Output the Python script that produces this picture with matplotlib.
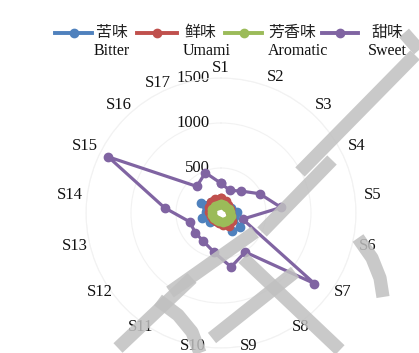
import numpy as np
import matplotlib
matplotlib.use("Agg")
import matplotlib.pyplot as plt
from matplotlib.lines import Line2D

# sample names around the radar
categories = ["S1", "S2", "S3", "S4", "S5", "S6", "S7", "S8", "S9",
              "S10", "S11", "S12", "S13", "S14", "S15", "S16", "S17"]

# taste intensities per sample
bitter = [120, 110, 100, 130, 180, 150, 260, 240, 120, 100, 110, 160, 220, 170, 250, 160, 130]
umami = [170, 140, 120, 110, 100, 120, 150, 170, 130, 110, 100, 110, 120, 130, 150, 160, 170]
aromatic = [100, 95, 90, 95, 105, 110, 115, 110, 100, 95, 90, 95, 100, 105, 110, 105, 100]
sweet = [330, 270, 330, 480, 670, 250, 1300, 510, 610, 440, 370, 360, 360, 630, 1400, 400, 480]

names_cn = ["苦味", "鲜味", "芳香味", "甜味"]
names_en = ["Bitter", "Umami", "Aromatic", "Sweet"]
r_ticks = [0, 500, 1000, 1500]

colors = ["#4F81BD", "#C0504D", "#9BBB59", "#8064A2"]
SERIF = "Liberation Serif"
CJK = ["Noto Sans CJK SC", "DejaVu Sans"]

W, H = 419, 353
fig = plt.figure(figsize=(W / 100, H / 100), dpi=100)
fig.patch.set_facecolor("white")


def fx(x):
    return x / W


def fy(y):
    return 1 - y / H


# polar area: centre (221, 213) px, radius 135 px
cx, cy, rad = 221, 213, 135
ax = fig.add_axes([fx(cx - rad), fy(cy + rad), 2 * rad / W, 2 * rad / H], projection="polar")
ax.set_theta_zero_location("N")
ax.set_theta_direction(-1)
ax.set_ylim(0, 1500)
ax.set_xticks([])
ax.set_yticks(r_ticks[1:])
ax.set_yticklabels([])
ax.yaxis.grid(True, color="#f2f2f2", lw=0.8)
ax.spines["polar"].set_color("#f2f2f2")
ax.spines["polar"].set_linewidth(0.8)
ax.set_facecolor("white")

n = len(categories)
angles = np.arange(n) * 2 * np.pi / n
closed = np.append(angles, angles[0])

series = [bitter, umami, aromatic, sweet]
zorders = [4, 5, 6, 3]
for vals, c, z in zip(series, colors, zorders):
    v = np.append(vals, vals[0])
    ax.plot(closed, v, color=c, lw=2.3, marker="o", ms=6, zorder=z, clip_on=False)

# value labels along the top spoke
for t in r_ticks:
    ax.annotate(str(t), (0, t), xytext=(-8, 0), textcoords="offset points",
                ha="right", va="center", fontsize=12, family=SERIF, color="#111111",
                zorder=2)

# category labels on a slightly flattened ring; S17 is pushed clear of "1500"
nudge = {"S17": (-0.03, -0.02)}
for a, lab in zip(angles, categories):
    dx, dy = nudge.get(lab, (0, 0))
    ax.text(0.5 + 0.563 * np.sin(a) + dx, 0.5185 + 0.5185 * np.cos(a) + dy, lab,
            transform=ax.transAxes, ha="center", va="center",
            fontsize=12, family=SERIF, color="#111111", clip_on=False)

# legend drawn by hand: handle span, chinese label x, english label x
handle_x = [(55, 92), (137, 177), (225, 262), (322, 358)]
cn_x = [112, 200, 292, 387]
en_x = [112, 207, 298, 387]
for (x0, x1), c, xc, xe, cn, en in zip(handle_x, colors, cn_x, en_x, names_cn, names_en):
    fig.add_artist(Line2D([fx(x0), fx(x1)], [fy(33), fy(33)], color=c, lw=2.8))
    fig.add_artist(Line2D([fx((x0 + x1) / 2)], [fy(33)], color=c, marker="o", ms=6))
    fig.text(fx(xc), fy(32), cn, ha="center", va="center", fontsize=11.5,
             family=CJK, color="#222222")
    fig.text(fx(xe), fy(51), en, ha="center", va="center", fontsize=11.5,
             family=SERIF, color="#111111")

# grey diagonal watermark strokes over the chart
strokes = [
    [(118, 348), (192, 278)],
    [(170, 292), (255, 232)],
    [(212, 338), (295, 272)],
    [(243, 258), (340, 350)],
    [(158, 300), (178, 315), (192, 332), (200, 353)],
    [(262, 232), (332, 160)],
    [(300, 172), (415, 55)],
    [(358, 238), (372, 258), (380, 278), (383, 297)],
    [(404, 33), (419, 50)],
]
for pts in strokes:
    xs = [fx(p[0]) for p in pts]
    ys = [fy(p[1]) for p in pts]
    fig.add_artist(Line2D(xs, ys, color="#c0c0c0", lw=9.5, alpha=0.85,
                          solid_capstyle="butt", zorder=10))

fig.savefig("out.png", dpi=100, facecolor="white")
